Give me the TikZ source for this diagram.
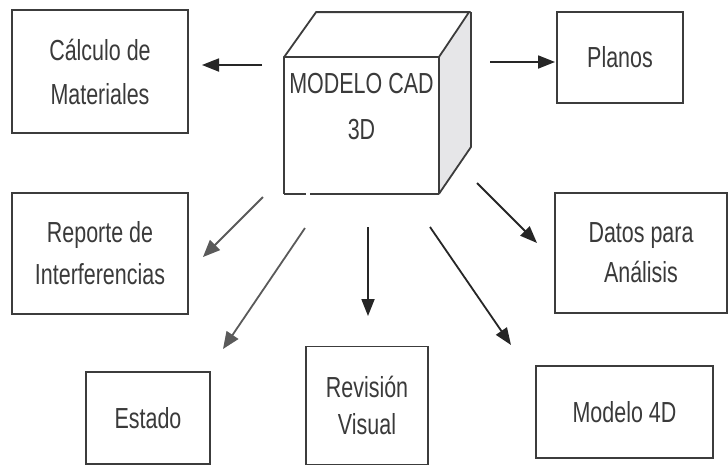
\documentclass[tikz,border=0pt]{standalone}
\usepackage{fontspec}
\setmainfont{Liberation Sans}[FakeStretch=0.74]
\usetikzlibrary{arrows.meta}
\definecolor{edge}{HTML}{3C3C3C}
\definecolor{txt}{HTML}{3A3A3A}
\definecolor{side}{HTML}{E6E6E8}
\definecolor{arrA}{HTML}{262626}
\definecolor{arrB}{HTML}{5A5A5A}
\begin{document}
\begin{tikzpicture}[x=1pt,y=-1pt,
  box/.style={draw=edge,line width=1.8pt,rectangle,inner sep=0pt,align=center,
    text=txt,font=\fontsize{29}{44}\selectfont},
  conn/.style={line width=1.8pt,draw=arrA,-{Triangle[length=17pt,width=13pt]}},
  connlight/.style={conn,draw=arrB,-{Triangle[length=17pt,width=14pt,fill=arrB]}}]
\useasboundingbox[fill=white] (0,0) rectangle (728,469);

% cube
\node[box,draw=none,minimum width=153pt,minimum height=135pt] (cad) at (361.5,125.5) {};
\fill[side] (cad.north east) -- ++(32,-45) -- ++(0,135) -- (cad.south east) -- cycle;
\draw[edge,line width=1.8pt,line join=round] (cad.south west) -- (cad.north west) -- (cad.north east) -- (cad.south east);
\draw[edge,line width=1.8pt] (cad.north west) -- ++(32,-45) -- ++(153,0) -- (cad.north east);
\draw[edge,line width=1.8pt] (cad.north east) ++(32,-45) -- ++(0,135) -- (cad.south east);
\draw[edge,line width=2.2pt] (cad.south west) -- ++(22,0);
\draw[edge,line width=1.8pt] (cad.south west) ++(26,0) -- (cad.south east);
\node[text=txt,font=\fontsize{29}{46}\selectfont,align=center,anchor=north] (cadtxt) at (361.5,70) {MODELO CAD\\3D};

% boxes
\node[box,minimum width=176pt,minimum height=123pt] (calc) at (100,71.5) {Cálculo de\\Materiales};
\node[box,minimum width=126pt,minimum height=91pt] (planos) at (620,57.5) {Planos};
\node[box,minimum width=176pt,minimum height=121pt,font=\fontsize{29}{42}\selectfont] (rep) at (100,253.5) {Reporte de\\Interferencias};
\node[box,minimum width=172pt,minimum height=120pt,font=\fontsize{29}{40}\selectfont] (datos) at (641,253) {Datos para\\Análisis};
\node[box,minimum width=124pt,minimum height=92pt] (estado) at (148,418) {Estado};
\node[box,minimum width=122pt,minimum height=118pt,font=\fontsize{29}{37}\selectfont] (rev) at (367,405.5) {Revisión\\Visual};
\node[box,minimum width=177pt,minimum height=92pt] (m4d) at (624.5,412) {Modelo 4D};

% connectors
\coordinate (a1s) at (262,65);  \coordinate (a1e) at (202,65);
\coordinate (a2s) at (490,62);  \coordinate (a2e) at (555,62);
\coordinate (a3s) at (263,197); \coordinate (a3e) at (203,257);
\coordinate (a4s) at (305,228); \coordinate (a4e) at (223,349);
\coordinate (a5s) at (368,227); \coordinate (a5e) at (368,316);
\coordinate (a6s) at (430,227); \coordinate (a6e) at (511,345);
\coordinate (a7s) at (477,183); \coordinate (a7e) at (537,243);
\draw[conn] (a1s) -- (a1e);
\draw[conn] (a2s) -- (a2e);
\draw[connlight] (a3s) -- (a3e);
\draw[connlight] (a4s) -- (a4e);
\draw[conn] (a5s) -- (a5e);
\draw[conn] (a6s) -- (a6e);
\draw[conn] (a7s) -- (a7e);
\end{tikzpicture}
\end{document}
